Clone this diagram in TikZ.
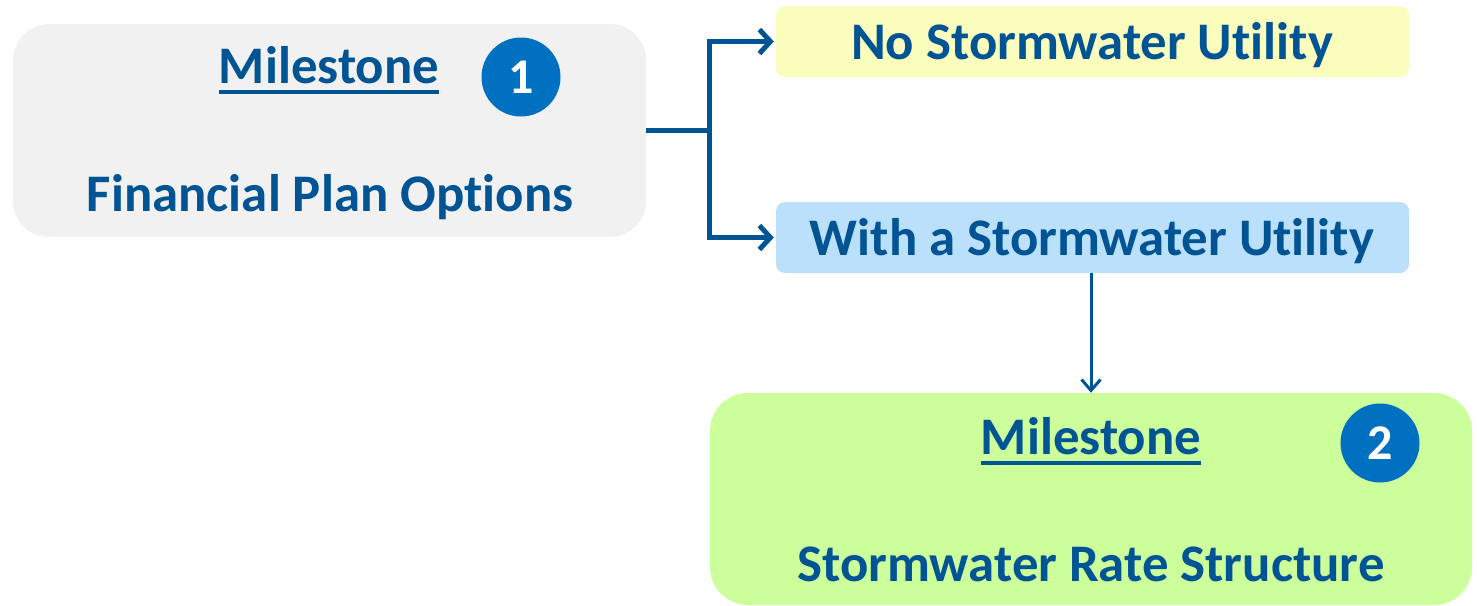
\documentclass[tikz,border=0pt]{standalone}
\usepackage{fontspec}
\setmainfont{Carlito}[Ligatures={NoCommon}]
\usetikzlibrary{arrows.meta}
\definecolor{txtblue}{HTML}{005494}
\definecolor{circblue}{HTML}{0070C0}
\definecolor{grayfill}{HTML}{F1F1F1}
\definecolor{yellowfill}{HTML}{FAFDBC}
\definecolor{bluefill}{HTML}{BBE0FC}
\definecolor{greenfill}{HTML}{CCFE9C}
\begin{document}
\begin{tikzpicture}[x=1pt,y=-1pt,
  box/.style={draw=none, inner sep=0pt},
  txt/.style={inner sep=0pt, text=txtblue, font=\fontsize{52.8}{60}\selectfont\bfseries},
  badge/.style={circle, fill=circblue, minimum size=79pt, inner sep=0pt, text=white, font=\fontsize{50}{60}\selectfont\bfseries},
  ul/.style={draw=txtblue, line width=4.5pt},
  conn/.style={draw=txtblue, line width=5pt},
  arr/.style={conn, -{Straight Barb[length=11pt,width=24pt,line width=5pt]}},
  thinarr/.style={draw=txtblue, line width=3pt, -{Straight Barb[length=11pt,width=19pt,line width=3pt]}}
]
\useasboundingbox (0,0) rectangle (1477,605);
% boxes
\node[box, fill=grayfill, rounded corners=36pt, minimum width=633pt, minimum height=213pt] (gray) at (329.5,130.5) {};
\node[box, fill=yellowfill, rounded corners=9pt, minimum width=633pt, minimum height=71pt] (yellow) at (1092.5,41.5) {};
\node[box, fill=bluefill, rounded corners=9pt, minimum width=633pt, minimum height=71pt] (blue) at (1092.5,237.5) {};
\node[box, fill=greenfill, rounded corners=38pt, minimum width=762pt, minimum height=212pt] (green) at (1091,499) {};
% texts
\node[txt, anchor=base] (m1) at (329,83) {Milestone};
\draw[ul] ([yshift=-9pt]m1.base west) -- ([yshift=-9pt]m1.base east);
\node[badge] (c1) at (521,77) {1};
\node[txt, anchor=base] (fpo) at (330,211) {Financial Plan Options};
\node[txt, anchor=base] (nsu) at (1092,59) {No Stormwater Utility};
\node[txt, anchor=base] (wsu) at (1092,255) {With a Stormwater Utility};
\node[txt, anchor=base] (m2) at (1091,454) {Milestone};
\draw[ul] ([yshift=-9pt]m2.base west) -- ([yshift=-9pt]m2.base east);
\node[badge] (c2) at (1380,443) {2};
\node[txt, anchor=base] (srs) at (1091,581) {Stormwater Rate Structure};
% connectors
\coordinate (split) at (709,130.5);
\draw[conn] (gray.east) -- (split);
\draw[arr] (split) |- ([xshift=-2pt]yellow.west);
\draw[arr] (split) |- ([xshift=-2pt]blue.west);
\draw[thinarr] (1091,273) coordinate (bs) -- (bs |- green.north);
\end{tikzpicture}
\end{document}
